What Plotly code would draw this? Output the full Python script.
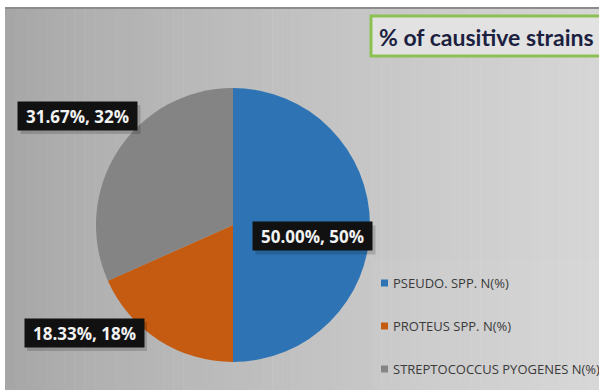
import plotly.graph_objects as go

# Share of causative strains (percent)
strains = ["PSEUDO. SPP. N(%)", "PROTEUS SPP. N(%)", "STREPTOCOCCUS PYOGENES N(%)"]
shares = [50.00, 18.33, 31.67]
colors = ["#2E74B5", "#C55A11", "#848484"]

W, H = 599, 390


def px(x):
    return x / W


def py(y):
    return 1 - y / H


fig = go.Figure()

cx, cy, r = 233, 225, 137
fig.add_trace(go.Pie(
    labels=strains,
    values=shares,
    sort=False,
    direction="clockwise",
    rotation=0,
    marker=dict(colors=colors, line=dict(width=0)),
    textinfo="none",
    hoverinfo="label+percent",
    showlegend=False,
    domain=dict(x=[px(cx - r), px(cx + r)], y=[py(cy + r), py(cy - r)]),
))

shapes = []
# grey gradient backdrop, darker on the left
x0, x1 = 5, W
n = 60
c_left, c_right = 166, 214
for i in range(n):
    a = x0 + (x1 - x0) * i / n
    b = x0 + (x1 - x0) * (i + 1) / n + 0.5
    t = i / (n - 1)
    c = int(round(c_left + (c_right - c_left) * (t ** 0.8)))
    shapes.append(dict(type="rect", xref="paper", yref="paper",
                       x0=px(a), x1=px(b), y0=0, y1=py(8),
                       fillcolor=f"rgb({c},{c},{c})", line=dict(width=0),
                       layer="below"))
# top edge line
shapes.append(dict(type="rect", xref="paper", yref="paper",
                   x0=px(5), x1=1, y0=py(9), y1=py(7),
                   fillcolor="#8c8c8c", line=dict(width=0), layer="below"))
# legend panel
shapes.append(dict(type="rect", xref="paper", yref="paper",
                   x0=px(373), x1=1, y0=0, y1=py(260),
                   fillcolor="rgba(255,255,255,0.04)", line=dict(width=0),
                   layer="below"))

# title box
shapes.append(dict(type="rect", xref="paper", yref="paper",
                   x0=px(371), x1=px(610), y0=py(56), y1=py(16),
                   fillcolor="#e2e2e2", line=dict(color="#8cc152", width=3)))

annotations = []
annotations.append(dict(text="<b>% of causitive strains</b>", xref="paper", yref="paper",
                        x=px(377), y=py(37), xanchor="left", yanchor="middle",
                        showarrow=False,
                        font=dict(family="Lato", size=23, color="#1c1f3f")))

# data labels: "xx.xx%, yy%"
label_centers = [(312.5, 236.5), (84, 333), (77.5, 116)]
for v, (lx, ly) in zip(shares, label_centers):
    # soft shadow behind each label box
    shapes.append(dict(type="rect", xref="paper", yref="paper",
                       x0=px(lx - 57), x1=px(lx + 63), y0=py(ly + 18), y1=py(ly - 11),
                       fillcolor="rgba(0,0,0,0.16)", line=dict(width=0)))
    annotations.append(dict(text=f"<b>{v:.2f}%, {round(v)}%</b>",
                            xref="paper", yref="paper",
                            x=px(lx), y=py(ly), xanchor="center", yanchor="middle",
                            showarrow=False, bgcolor="#111111",
                            width=113, height=22, borderpad=3,
                            font=dict(family="Open Sans", size=17, color="#f2f2f2")))

# legend entries
legend_y = [283, 326, 369]
for name, col, ly in zip(strains, colors, legend_y):
    shapes.append(dict(type="rect", xref="paper", yref="paper",
                       x0=px(381), x1=px(388), y0=py(ly + 3.5), y1=py(ly - 3.5),
                       fillcolor=col, line=dict(width=0)))
    annotations.append(dict(text=name, xref="paper", yref="paper",
                            x=px(391), y=py(ly), xanchor="left", yanchor="middle",
                            showarrow=False,
                            font=dict(family="Open Sans", size=13, color="#3a3a3a")))

fig.update_layout(
    width=W, height=H,
    margin=dict(l=0, r=0, t=0, b=0),
    paper_bgcolor="white",
    plot_bgcolor="white",
    shapes=shapes,
    annotations=annotations,
)

fig.write_html("out.html")
